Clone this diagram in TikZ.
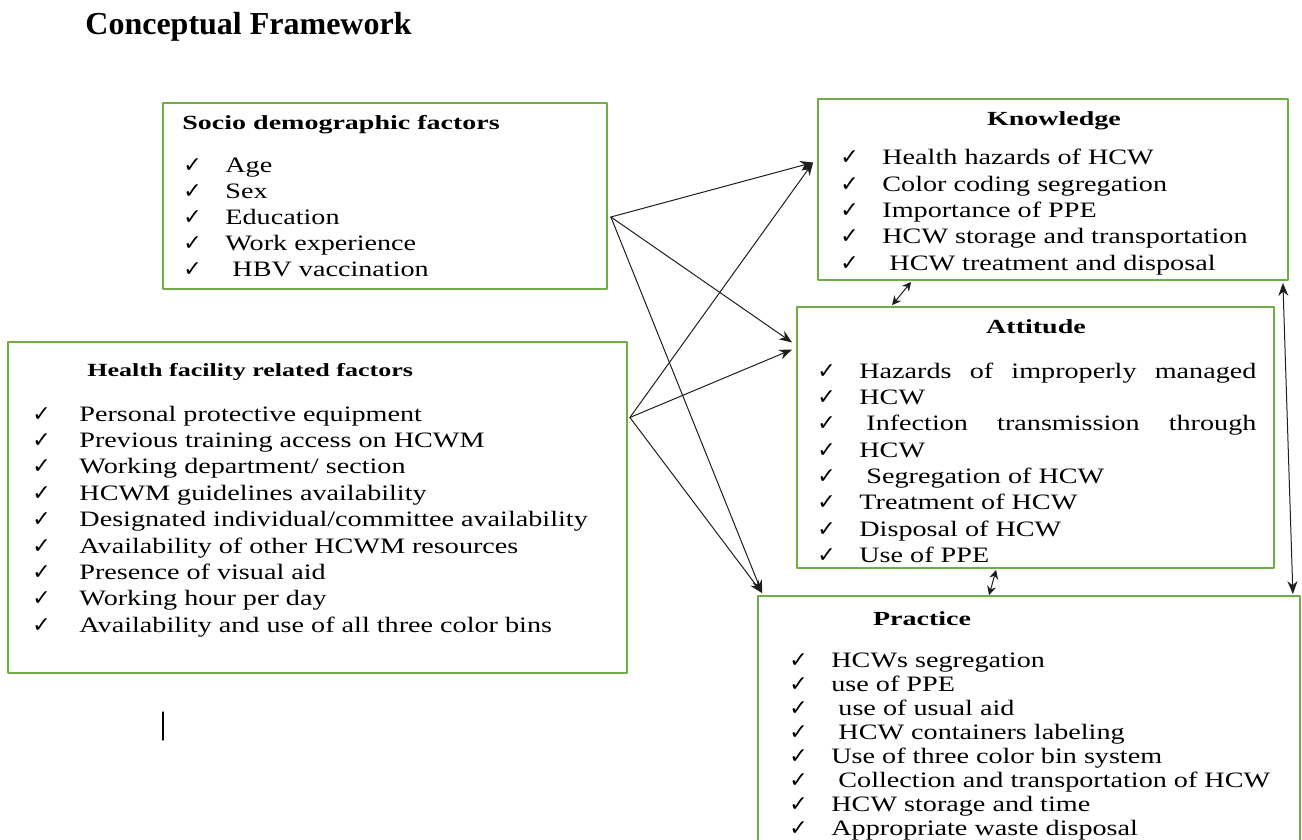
\documentclass[tikz,border=0pt]{standalone}
\usepackage{fontspec}
\setmainfont{Liberation Serif}
\newfontfamily\bodyfont{Liberation Serif}[FakeStretch=1.28]
\newfontfamily\headfont{Liberation Serif}[FakeStretch=1.4]
\newfontfamily\symfont{DejaVu Sans}
\usetikzlibrary{fit,calc,arrows.meta}
\definecolor{boxgreen}{RGB}{112,173,71}
\definecolor{linkgray}{RGB}{30,30,30}
% check mark column and list of items
\newcommand{\chk}[1][21pt]{\makebox[#1][l]{\symfont\fontsize{11}{12}\selectfont ✓}}
\newcommand{\checklist}[2]{{\bodyfont\fontsize{11}{#1}\selectfont\begin{tabular}[t]{@{}l@{}}#2\end{tabular}}}
\begin{document}
\begin{tikzpicture}[x=0.5pt, y=-0.5pt, line cap=round, line join=round,
    frame/.style={draw=boxgreen, line width=0.9pt, inner sep=0pt},
    link/.style={draw=linkgray, line width=0.5pt, -{Stealth[length=6.5pt,width=5pt]}},
    twoway/.style={link, {Stealth[length=6.5pt,width=5pt]}-{Stealth[length=6.5pt,width=5pt]}},
    shortway/.style={link, {Stealth[length=4.5pt,width=4.5pt]}-{Stealth[length=4.5pt,width=4.5pt]}},
    heading/.style={inner sep=0pt, font=\headfont\bfseries\fontsize{10}{12}\selectfont},
    items/.style={inner sep=0pt, anchor=base west}]
  \useasboundingbox (0,0) rectangle (1302,840);
  \clip (0,0) rectangle (1302,840);
  \path
    (163,103) coordinate (socio-nw) (607,289) coordinate (socio-se)
    (8,342) coordinate (facility-nw) (627,673) coordinate (facility-se)
    (818,99) coordinate (know-nw) (1288,280) coordinate (know-se)
    (797,307) coordinate (att-nw) (1274,568) coordinate (att-se)
    (758,596) coordinate (prac-nw) (1300,870) coordinate (prac-se);
  % boxes
  \node[frame, fit=(socio-nw)(socio-se)] (socio) {};
  \node[frame, fit=(facility-nw)(facility-se)] (facility) {};
  \node[frame, fit=(know-nw)(know-se)] (know) {};
  \node[frame, fit=(att-nw)(att-se)] (att) {};
  \node[frame, fit=(prac-nw)(prac-se)] (prac) {};
  % title and headings
  \node[inner sep=0pt, anchor=base west, font=\bfseries\fontsize{16}{19}\selectfont] (title) at (85,35) {Conceptual Framework};
  \node[heading, anchor=base west] (socio-head) at (182,130) {Socio demographic factors};
  \node[heading, anchor=base west, font=\headfont\bfseries\fontsize{9.3}{11}\selectfont] (facility-head) at (87,376) {Health facility related factors};
  \node[heading, anchor=base] (know-head) at (1054,126) {Knowledge};
  \node[heading, anchor=base] (att-head) at (1036,333) {Attitude};
  \node[heading, anchor=base] (prac-head) at (922,625) {Practice};
  % lists
  \node[items] (socio-list) at (183,173) {\checklist{13pt}{%
    \chk Age\\ \chk Sex\\ \chk Education\\ \chk Work experience\\ \chk\ HBV vaccination}};
  \node[items] (facility-list) at (32,421) {\checklist{13.2pt}{%
    \chk[20pt] Personal protective equipment\\
    \chk[20pt]\ Previous training access on HCWM\\
    \chk[20pt]\ Working department/ section\\
    \chk[20pt] HCWM guidelines availability\\
    \chk[20pt]\ Designated individual/committee availability\\
    \chk[20pt]\ Availability of other HCWM resources\\
    \chk[20pt] Presence of visual aid\\
    \chk[20pt] Working hour per day\\
    \chk[20pt] Availability and use of all three color bins}};
  \node[items] (know-list) at (840,165) {\checklist{13.15pt}{%
    \chk Health hazards of HCW\\ \chk Color coding segregation\\ \chk Importance of PPE\\
    \chk HCW storage and transportation\\ \chk\ HCW treatment and disposal}};
  \node[items] (att-list) at (817,378) {\checklist{13.2pt}{%
    \chk\makebox[198.5pt][s]{Hazards of improperly managed}\\
    \chk HCW\\
    \chk\hspace{3.5pt}\makebox[195pt][s]{Infection transmission through}\\
    \chk HCW\\
    \chk\ Segregation of HCW\\ \chk Treatment of HCW\\ \chk Disposal of HCW\\ \chk Use of PPE}};
  \node[items] (prac-list) at (789,667) {\checklist{12pt}{%
    \chk HCWs segregation\\ \chk use of PPE\\ \chk\ use of usual aid\\ \chk\ HCW containers labeling\\
    \chk Use of three color bin system\\ \chk\ Collection and transportation of HCW\\
    \chk HCW storage and time\\ \chk Appropriate waste disposal}};
  % connector ends
  \coordinate (socio-out) at ($(socio.east)+(3,21)$);
  \coordinate (facility-out) at ($(facility.east)+(2,-90)$);
  \coordinate (know-in) at ($(know.west)+(-4,-27)$);
  \coordinate (att-in-a) at ($(att.west)+(-4,-95)$);
  \coordinate (att-in-b) at ($(att.west)+(-4,-88)$);
  \coordinate (prac-in) at ($(prac.north west)+(5,-2)$);
  \coordinate (know-low) at ($(know.south west)+(94,1)$);
  \coordinate (att-up) at ($(att.north west)+(96,-1)$);
  \coordinate (att-low) at ($(att.south west)+(200,1)$);
  \coordinate (prac-up) at ($(prac.north west)+(232,0)$);
  \coordinate (know-right) at ($(know.south east)+(-6,2)$);
  \coordinate (prac-right) at ($(prac.north east)+(-8,-1)$);
  % connectors
  \draw[link] (socio-out) -- (know-in);
  \draw[link] (socio-out) -- (att-in-a);
  \draw[link] (socio-out) -- (prac-in);
  \draw[link] (facility-out) -- (know-in);
  \draw[link] (facility-out) -- (att-in-b);
  \draw[link] (facility-out) -- (prac-in);
  \draw[shortway] (know-low) -- (att-up);
  \draw[shortway] (att-low) -- (prac-up);
  \draw[twoway] (know-right) -- (prac-right);
  \draw[line width=0.6pt] (163,712) -- (163,740);
\end{tikzpicture}
\end{document}
